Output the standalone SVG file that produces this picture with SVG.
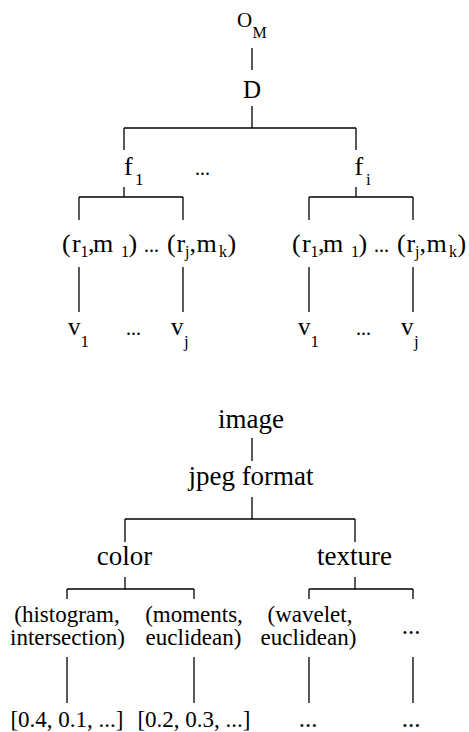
<svg xmlns="http://www.w3.org/2000/svg" width="469" height="732" viewBox="0 0 469 732">
<style>
text{font-family:'Liberation Serif','DejaVu Serif','Times New Roman',serif;fill:#000}
.m{font-size:26px}
.v{font-size:25px}
.s{font-size:17px}
.t{font-size:16px}
.d{font-size:20px}
.b{font-size:27px;text-anchor:middle}
.c{font-size:23px;text-anchor:middle}
.e{font-size:25px;text-anchor:middle}
#connectors line{stroke:#000;stroke-width:1.3;fill:none}
</style>
<rect width="469" height="732" fill="#fff"/>
<g id="connectors">
<line x1="252" y1="48" x2="252" y2="70"/>
<line x1="252" y1="106" x2="252" y2="128"/>
<line x1="124" y1="128" x2="356" y2="128"/>
<line x1="124" y1="128" x2="124" y2="150"/>
<line x1="356" y1="128" x2="356" y2="150"/>
<line x1="124" y1="187" x2="124" y2="197"/>
<line x1="79" y1="197" x2="183" y2="197"/>
<line x1="79" y1="197" x2="79" y2="220"/>
<line x1="183" y1="197" x2="183" y2="220"/>
<line x1="356" y1="187" x2="356" y2="197"/>
<line x1="309" y1="197" x2="413" y2="197"/>
<line x1="309" y1="197" x2="309" y2="220"/>
<line x1="413" y1="197" x2="413" y2="220"/>
<line x1="79" y1="267" x2="79" y2="312"/>
<line x1="183" y1="267" x2="183" y2="312"/>
<line x1="309" y1="267" x2="309" y2="312"/>
<line x1="413" y1="267" x2="413" y2="312"/>
<line x1="252" y1="438" x2="252" y2="461"/>
<line x1="252" y1="497" x2="252" y2="519"/>
<line x1="125" y1="519" x2="355" y2="519"/>
<line x1="125" y1="519" x2="125" y2="542"/>
<line x1="355" y1="519" x2="355" y2="542"/>
<line x1="125" y1="577" x2="125" y2="589"/>
<line x1="67" y1="589" x2="194" y2="589"/>
<line x1="67" y1="589" x2="67" y2="599"/>
<line x1="194" y1="589" x2="194" y2="599"/>
<line x1="355" y1="577" x2="355" y2="589"/>
<line x1="309" y1="589" x2="413" y2="589"/>
<line x1="309" y1="589" x2="309" y2="599"/>
<line x1="413" y1="589" x2="413" y2="599"/>
<line x1="67" y1="657" x2="67" y2="703"/>
<line x1="194" y1="657" x2="194" y2="703"/>
<line x1="309" y1="657" x2="309" y2="703"/>
<line x1="413" y1="657" x2="413" y2="703"/>
</g>
<g font-family="Liberation Serif, DejaVu Serif, serif">
<g id="om"><text x="237" y="26.5" font-size="21">O<tspan x="252.5" y="38" font-size="16">M</tspan></text></g>
<g id="d"><text x="252" y="98" font-size="25" text-anchor="middle">D</text></g>
<g id="f1"><text class="m" x="124" y="175">f<tspan class="s" x="135" y="185">1</tspan></text></g>
<g id="fdots"><text class="d" x="195" y="175">...</text></g>
<g id="fi"><text class="m" x="354.5" y="175">f<tspan class="s" x="366" y="185">i</tspan></text></g>
<g id="rm-left"><text class="m" x="62" y="252">(<tspan x="72">r</tspan><tspan class="t" x="80.5" y="257">1</tspan><tspan x="88" y="252">,</tspan><tspan x="93">m</tspan><tspan class="t" x="121" y="257">1</tspan><tspan x="128.5" y="252">)</tspan><tspan class="d" x="144">...</tspan><tspan x="167">(</tspan><tspan x="176.5">r</tspan><tspan class="t" x="185" y="257">j</tspan><tspan x="189.5" y="252">,</tspan><tspan x="196.5">m</tspan><tspan class="t" x="219" y="257">k</tspan><tspan x="227.5" y="252">)</tspan></text></g>
<g id="rm-right"><text class="m" x="292" y="252">(<tspan x="302">r</tspan><tspan class="t" x="310.5" y="257">1</tspan><tspan x="318" y="252">,</tspan><tspan x="323">m</tspan><tspan class="t" x="351" y="257">1</tspan><tspan x="358.5" y="252">)</tspan><tspan class="d" x="374">...</tspan><tspan x="397">(</tspan><tspan x="406.5">r</tspan><tspan class="t" x="415" y="257">j</tspan><tspan x="419.5" y="252">,</tspan><tspan x="426.5">m</tspan><tspan class="t" x="449" y="257">k</tspan><tspan x="457.5" y="252">)</tspan></text></g>
<g id="v-left"><text class="v" x="68" y="335">v<tspan class="s" x="80.5" y="347">1</tspan><tspan class="d" x="126" y="335">...</tspan><tspan x="171">v</tspan><tspan class="s" x="184" y="347">j</tspan></text></g>
<g id="v-right"><text class="v" x="298" y="335">v<tspan class="s" x="310.5" y="347">1</tspan><tspan class="d" x="356" y="335">...</tspan><tspan x="401">v</tspan><tspan class="s" x="414" y="347">j</tspan></text></g>
<g id="image"><text class="b" x="251" y="427.5">image</text></g>
<g id="jpeg"><text class="b" x="251" y="485">jpeg format</text></g>
<g id="color"><text class="b" x="124.5" y="565">color</text></g>
<g id="texture"><text class="b" x="354.5" y="565">texture</text></g>
<g id="hist"><text class="c" x="67" y="622">(histogram,</text><text class="c" x="67.5" y="645">intersection)</text></g>
<g id="moments"><text class="c" x="194" y="622">(moments,</text><text class="c" x="193.5" y="645">euclidean)</text></g>
<g id="wavelet"><text class="c" x="310" y="622">(wavelet,</text><text class="c" x="308.5" y="645">euclidean)</text></g>
<g id="tdots"><text class="e" x="411" y="634">...</text></g>
<g id="val1"><text class="c" x="67" y="727">[0.4, 0.1, ...]</text></g>
<g id="val2"><text class="c" x="194" y="727">[0.2, 0.3, ...]</text></g>
<g id="val3"><text class="e" x="308" y="727">...</text></g>
<g id="val4"><text class="e" x="411" y="727">...</text></g>
</g>
</svg>
